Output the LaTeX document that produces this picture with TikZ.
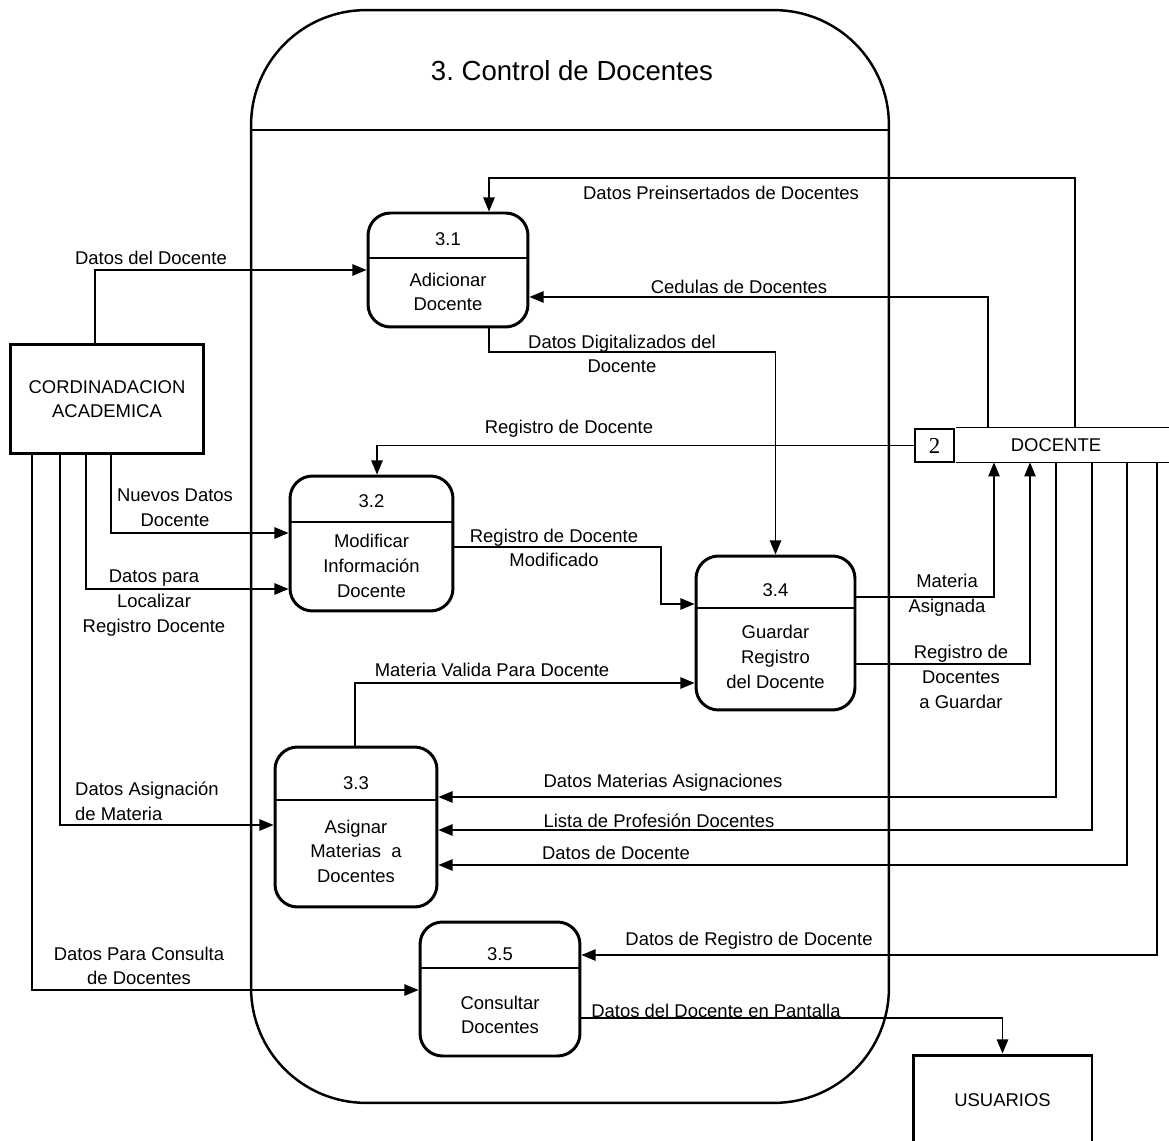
\documentclass[tikz,border=0pt]{standalone}
\usepackage{fontspec}
\setmainfont{Liberation Sans}
\newfontfamily\numfont{Liberation Serif}
\usetikzlibrary{arrows.meta}
\frenchspacing
\begin{document}
\begin{tikzpicture}[x=0.02cm,y=-0.02cm,font=\fontsize{10.5}{14}\selectfont,
  proc/.style={draw,rounded corners=0.45cm,line width=1.7pt,inner sep=0pt},
  ext/.style={draw,line width=1.7pt,inner sep=0pt},
  flujo/.style={line width=0.7pt,-{Triangle[length=8pt,width=6.5pt]}},
  etq/.style={align=center,inner sep=1pt}]
\useasboundingbox (0,0) rectangle (1169,1141);
\node[draw,line width=1.4pt,rounded corners=2.3cm,minimum width=12.76cm,minimum height=21.86cm] (ctrl) at (570,556.5) {};
\draw[line width=0.7pt] (ctrl.west |- 0,130) -- (ctrl.east |- 0,130);
\node (titulo) at (572,71) {\fontsize{15.7}{19}\selectfont 3.\ Control de Docentes};
\node[proc,minimum width=3.2cm,minimum height=2.28cm] (p31) at (448,270) {};
\node[proc,minimum width=3.26cm,minimum height=2.7cm] (p32) at (371.5,543.5) {};
\node[proc,minimum width=3.24cm,minimum height=3.2cm] (p33) at (356,827) {};
\node[proc,minimum width=3.18cm,minimum height=3.08cm] (p34) at (775.5,633) {};
\node[proc,minimum width=3.2cm,minimum height=2.68cm] (p35) at (500,989) {};
\draw[line width=0.7pt] (p31.west |- 0,258) -- (p31.east |- 0,258);
\draw[line width=0.7pt] (p32.west |- 0,522) -- (p32.east |- 0,522);
\draw[line width=0.7pt] (p33.west |- 0,800) -- (p33.east |- 0,800);
\draw[line width=0.7pt] (p34.west |- 0,608) -- (p34.east |- 0,608);
\draw[line width=0.7pt] (p35.west |- 0,968) -- (p35.east |- 0,968);
\node (n31) at (448,239) {3.1};
\node (n32) at (371.5,501) {3.2};
\node (n33) at (356,783) {3.3};
\node (n34) at (775.5,590) {3.4};
\node (n35) at (500,954) {3.5};
\node[etq] (t31) at (448,292) {Adicionar\\Docente};
\node[etq] (t32) at (371.5,566) {Modificar\\Información\\Docente};
\node[etq] (t33) at (356,851) {Asignar\\Materias~ a\\Docentes};
\node[etq] (t34) at (775.5,657) {Guardar\\Registro\\del Docente};
\node[etq] (t35) at (500,1015) {Consultar\\Docentes};
\node[ext,minimum width=3.88cm,minimum height=2.2cm,align=center] (ca) at (107,399) {CORDINADACION\\ACADEMICA};
\node[ext,minimum width=3.58cm,minimum height=1.8cm] (usu) at (1002.5,1100) {USUARIOS};
\node[draw,line width=0.7pt,minimum width=0.78cm,minimum height=0.66cm,inner sep=0pt] (d2) at (934.5,445.5) {\numfont\fontsize{13}{15}\selectfont 2};
\node[minimum width=4cm,minimum height=0.68cm,inner sep=0pt] (doc) at (1056,445) {DOCENTE};
\draw[line width=0.7pt] (doc.north west) -- ++(213,0) (doc.south west) -- ++(213,0);
\draw[flujo] (doc.north -| 1075,0) |- (489,178) -- (p31.north -| 489,0);
\draw[flujo] (doc.north -| 988,0) |- (p31.east |- 0,297);
\draw[flujo] (ca.north -| 95,0) |- (p31.west |- 0,270);
\draw[flujo] (p31.south -| 489,0) |- (775.5,352) -- (p34.north);
\draw[flujo] (d2.west) -| (p32.north -| 377,0);
\draw[flujo] (ca.south -| 111,0) |- (p32.west |- 0,533);
\draw[flujo] (ca.south -| 86,0) |- (p32.west |- 0,589);
\draw[flujo] (p32.east |- 0,547) -- (661,547) |- (p34.west |- 0,604);
\draw[flujo] (p33.north -| 355,0) |- (p34.west |- 0,683);
\draw[flujo] (p34.east |- 0,597) -| (doc.south -| 994,0);
\draw[flujo] (p34.east |- 0,664) -| (doc.south -| 1030,0);
\draw[flujo] (doc.south -| 1056,0) |- (p33.east |- 0,797);
\draw[flujo] (doc.south -| 1092,0) |- (p33.east |- 0,830);
\draw[flujo] (doc.south -| 1127,0) |- (p33.east |- 0,865);
\draw[flujo] (doc.south -| 1157,0) |- (p35.east |- 0,955);
\draw[flujo] (ca.south -| 60,0) |- (p33.west |- 0,825);
\draw[flujo] (ca.south -| 32,0) |- (p35.west |- 0,990);
\draw[flujo] (p35.east |- 0,1018) -| (usu.north);
\node[etq] (e1) at (721,193) {Datos Preinsertados de Docentes};
\node[etq] (e2) at (739,287) {Cedulas de Docentes};
\node[etq] (e3) at (151,258) {Datos del Docente};
\node[etq] (e4) at (622,354) {Datos Digitalizados del\\Docente};
\node[etq] (e5) at (569,429) {Registro de Docente};
\node[etq] (e6) at (175,508) {Nuevos Datos\\Docente};
\node[etq] (e7) at (154,603) {Datos para\\Localizar\\Registro Docente};
\node[etq] (e8) at (554,548) {Registro de Docente\\Modificado};
\node[etq] (e9) at (492,670) {Materia Valida Para Docente};
\node[etq] (e10) at (947,595) {Materia\\Asignada};
\node[etq] (e11) at (961,677) {Registro de\\Docentes\\a Guardar};
\node[etq] (e12) at (663,783) {Datos Materias Asignaciones};
\node[etq] (e13) at (659,821) {Lista de Profesión Docentes};
\node[etq] (e14) at (616,853) {Datos de Docente};
\node[etq] (e15) at (749,941) {Datos de Registro de Docente};
\node[etq,align=left] (e16) at (147,801) {Datos Asignación\\de Materia};
\node[etq] (e17) at (139,966) {Datos Para Consulta\\de Docentes};
\node[etq] (e18) at (716,1011) {Datos del Docente en Pantalla};
\end{tikzpicture}
\end{document}
